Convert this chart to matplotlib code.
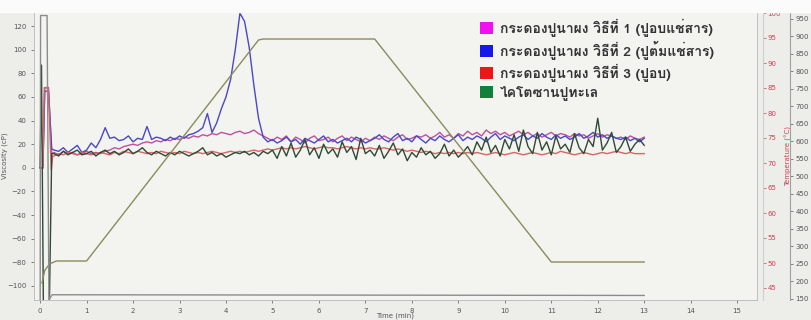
import numpy as np
import matplotlib
matplotlib.use("Agg")
import matplotlib.pyplot as plt
from matplotlib import font_manager
from matplotlib.patches import Patch
from fontTools.ttLib import TTFont

# find an installed font that has Thai glyphs
def thai_font():
    for f in font_manager.fontManager.ttflist:
        try:
            tt = TTFont(f.fname, fontNumber=0, lazy=True)
            if 0x0E01 in tt.getBestCmap():
                return f.name
        except Exception:
            pass
    return "DejaVu Sans"

THAI = thai_font()

labels = ["กระดองปูนาผง วิธีที่ 1 (ปูอบแช่สาร)",
          "กระดองปูนาผง วิธีที่ 2 (ปูต้มแช่สาร)",
          "กระดองปูนาผง วิธีที่ 3 (ปูอบ)",
          "ไคโตซานปูทะเล"]

# main sampling every 0.1 min from 0.3 to 13.0
t_main = np.round(np.arange(0.3, 13.01, 0.1), 1)

# start-up spike, read separately
t_start_1 = [0.06, 0.10, 0.18, 0.25]
v_start_1 = [0, 68, 68, 12]
t_start_2 = [0.0, 0.06, 0.10, 0.18, 0.25]
v_start_2 = [0, 0, 65, 65, 16]
t_start_3 = [0.0, 0.06, 0.09, 0.18, 0.24, 0.27]
v_start_3 = [0, 0, 68, 67, -2, 10]
t_start_4 = [0.0, 0.03, 0.07, 0.20, 0.25]
v_start_4 = [0, 87, -115, -115, 12]

visc_1 = [13, 11, 14, 12, 13, 11, 12, 14, 12, 13,
          12, 14, 15, 17, 16, 18, 19, 20, 19, 21,
          22, 21, 23, 22, 24, 23, 25, 24, 26, 25,
          27, 26, 28, 27, 29, 28, 30, 29, 28, 30,
          31, 29, 30, 32, 29, 27, 25, 23, 26, 24,
          27, 22, 26, 24, 21, 25, 27, 23, 24, 26,
          22, 25, 27, 23, 26, 24, 22, 25, 23, 26,
          24, 27, 25, 23, 26, 28, 24, 25, 27, 26,
          28, 25, 27, 30, 26, 28, 25, 29, 27, 31,
          28, 30, 27, 32, 29, 31, 28, 30, 27, 29,
          31, 28, 30, 27, 29, 26, 28, 30, 27, 29,
          28, 26, 29, 27, 28, 25, 27, 29, 26, 28,
          27, 25, 26, 24, 27, 25, 24, 26]

visc_2 = [15, 14, 17, 13, 16, 19, 13, 15, 21, 17,
          24, 34, 25, 26, 23, 24, 27, 22, 25, 24,
          35, 24, 26, 25, 23, 26, 24, 27, 25, 28,
          29, 31, 34, 46, 30, 38, 50, 60, 75, 100,
          131, 124, 102, 70, 42, 26, 22, 24, 21, 23,
          26, 22, 24, 20, 25, 23, 21, 24, 27, 22,
          24, 21, 23, 25, 22, 26, 24, 21, 23, 25,
          28, 24, 22, 26, 29, 23, 25, 22, 27, 24,
          21, 25, 23, 27, 24, 22, 25, 28, 23, 26,
          24, 27, 25, 22, 26, 29, 24, 27, 25, 23,
          26, 28, 24, 27, 25, 29, 26, 24, 28, 25,
          27, 24, 26, 29, 25, 27, 30, 26, 28, 25,
          27, 25, 24, 26, 23, 25, 22, 25]

visc_3 = [10, 12, 11, 13, 12, 11, 13, 12, 11, 12,
          13, 12, 11, 13, 12, 14, 13, 12, 14, 13,
          12, 13, 12, 14, 13, 12, 13, 12, 14, 13,
          12, 13, 12, 13, 14, 13, 12, 13, 14, 13,
          14, 13, 14, 15, 14, 15, 16, 15, 16, 17,
          16, 17, 16, 17, 18, 17, 16, 17, 18, 17,
          17, 16, 17, 18, 17, 16, 17, 16, 17, 16,
          16, 17, 16, 15, 16, 15, 14, 15, 14, 13,
          14, 13, 12, 13, 12, 13, 12, 13, 12, 13,
          12, 13, 12, 11, 12, 13, 12, 11, 12, 13,
          12, 11, 12, 13, 12, 11, 12, 13, 12, 14,
          13, 12, 11, 12, 13, 12, 11, 12, 13, 12,
          13, 14, 13, 12, 13, 12, 12, 12]

visc_4 = [12, 10, 14, 11, 13, 15, 11, 12, 14, 10,
          13, 15, 12, 14, 11, 13, 16, 12, 14, 17,
          13, 11, 14, 12, 10, 13, 11, 14, 12, 10,
          12, 14, 17, 11, 13, 10, 12, 9, 11, 13,
          12, 14, 11, 13, 10, 14, 12, 15, 8, 18,
          10, 21, 9, 15, 24, 11, 17, 8, 20, 12,
          16, 9, 22, 13, 18, 7, 25, 12, 15, 10,
          19, 8, 14, 21, 11, 16, 6, 13, 9, 17,
          11, 14, 8, 12, 20, 10, 15, 9, 13, 18,
          11, 22, 15, 26, 13, 19, 10, 24, 16, 28,
          14, 32, 18, 12, 30, 15, 22, 11, 27, 16,
          20, 13, 29, 17, 12, 24, 18, 42, 15, 21,
          30, 13, 18, 26, 14, 20, 24, 19]

# instrument profile
t_temp = [0.04, 0.10, 0.20, 0.35, 1.0, 4.7, 4.8, 7.2, 11.0, 13.0]
temp = [46.0, 48.5, 49.8, 50.4, 50.4, 94.6, 94.8, 94.8, 50.2, 50.2]
t_speed = [0.0, 0.01, 0.15, 0.19, 0.26, 13.0]
speed = [0, 960, 960, 148, 162, 160]

colors = ["#c0509c", "#4848c8", "#d86464", "#2f4a36"]
legend_colors = ["#f010f0", "#1818e8", "#e81818", "#10803a"]

fig = plt.figure(figsize=(8.11, 3.2), dpi=100, facecolor="#ededea")
fig.patches.append(plt.Rectangle((0, 0.963), 1, 0.04, transform=fig.transFigure,
                                 color="#fbfbfb", zorder=0))
ax = fig.add_axes([0.042, 0.0625, 0.891, 0.9])
ax.set_facecolor("#f3f3f0")

starts = [(t_start_1, v_start_1), (t_start_2, v_start_2),
          (t_start_3, v_start_3), (t_start_4, v_start_4)]
series = [visc_1, visc_2, visc_3, visc_4]
for (ts, vs), v, c in zip(starts, series, colors):
    ax.plot(list(ts) + list(t_main), list(vs) + list(v), color=c, lw=1.0)

ax.set_xlim(-0.13, 15.42)
ax.set_ylim(-112, 132)
ax.set_xticks(range(0, 16))
ax.set_yticks(range(-100, 121, 20))
ax.tick_params(labelsize=5, colors="#555555", length=2, width=0.5)
ax.set_xlabel("Time (min)", fontsize=5, color="#555555", labelpad=-1)
ax.set_ylabel("Viscosity (cP)", fontsize=5, color="#555555")
ax.yaxis.set_label_coords(-0.036, 0.5)
for s in ax.spines.values():
    s.set_color("#b8b8b8")
    s.set_linewidth(0.6)

# spine offsets in axes fraction (axes is 723 px wide)
ax_t = ax.twinx()
ax_t.plot(t_temp, temp, color="#8a8c5c", lw=1.0)
ax_t.set_ylim(42.6, 100.2)
ax_t.set_yticks(range(45, 101, 5))
ax_t.spines["right"].set_position(("axes", 1 + 6 / 723))
ax_t.spines["right"].set_color("#cfcfcf")
ax_t.tick_params(labelsize=5, colors="#d04050", length=2, width=0.5, pad=1.5)
ax_t.set_ylabel("Temperature (°C)", fontsize=5, color="#d04050")
ax_t.yaxis.set_label_coords(1 + 28 / 723, 0.5)
for k in ["left", "top", "bottom"]:
    ax_t.spines[k].set_visible(False)

ax_s = ax.twinx()
ax_s.plot(t_speed, speed, color="#8c8c8c", lw=1.0)
ax_s.set_ylim(147, 970)
ax_s.set_yticks(range(150, 951, 50))
ax_s.spines["right"].set_position(("axes", 1 + 33 / 723))
ax_s.spines["right"].set_color("#a0a0a0")
ax_s.tick_params(labelsize=5, colors="#555555", length=2, width=0.5, pad=2)
for k in ["left", "top", "bottom"]:
    ax_s.spines[k].set_visible(False)

handles = [Patch(facecolor=c, edgecolor="none") for c in legend_colors]
leg = ax_s.legend(handles, labels, loc="upper left", bbox_to_anchor=(0.60, 1.02),
                  frameon=False, handlelength=0.9, handleheight=0.9,
                  handletextpad=0.5, labelspacing=0.28,
                  prop={"family": [THAI, "DejaVu Sans"], "size": 10, "weight": "bold"})
for txt in leg.get_texts():
    txt.set_color("#333333")

fig.savefig("out.png", dpi=100, facecolor=fig.get_facecolor())
